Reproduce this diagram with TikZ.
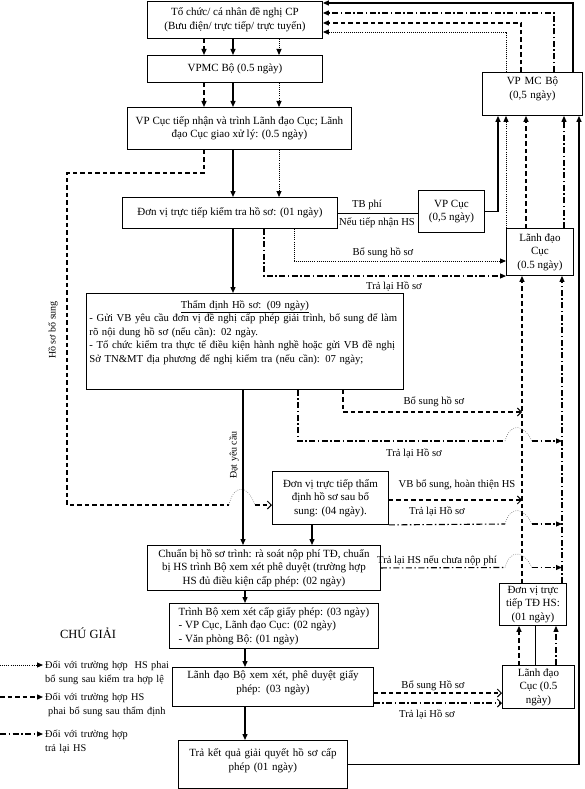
\documentclass[tikz,border=0pt]{standalone}
\usepackage{fontspec}
\setmainfont{Liberation Serif}
\usetikzlibrary{arrows.meta,positioning,calc}
\tikzset{
  txt/.style={font=\fontsize{11}{13.5}\selectfont},
  box/.style={txt, draw, line width=0.9pt, inner sep=2pt, align=center, anchor=north west},
  lbl/.style={font=\fontsize{10.6}{13}\selectfont, inner sep=0.5pt},
  sidelbl/.style={font=\fontsize{10}{12}\selectfont, inner sep=0.5pt, rotate=90},
  legtxt/.style={font=\fontsize{10.3}{13.5}\selectfont, text width=130pt, align=left, anchor=base west, inner sep=2pt},
  tip/.style={-{Triangle[length=6pt,width=5pt]}},
  opentip/.style={-{Straight Barb[length=4pt,width=8pt,line width=1pt]}},
  solidln/.style={line width=1.3pt},
  thinln/.style={line width=0.7pt},
  dashln/.style={line width=1.3pt, dash pattern=on 4.5pt off 3pt},
  dotln/.style={line width=0.9pt, dash pattern=on 0.9pt off 1.2pt},
  dashdotln/.style={line width=1.1pt, dash pattern=on 6pt off 2.5pt on 1.5pt off 2.5pt},
  hop/.style={line width=0.6pt, gray, dash pattern=on 0.8pt off 1.4pt}
}
\begin{document}
\begin{tikzpicture}[x=1pt,y=-1pt]
  \useasboundingbox (0,0) rectangle (585,789);
  \node[box, minimum width=175pt, minimum height=37pt] (org) at (147,1) {Tổ chức/ cá nhân đề nghị CP\\(Bưu điện/ trực tiếp/ trực tuyến)};
  \node[box, minimum width=175pt, minimum height=27pt] (vpmc) at (147,55) {VPMC Bộ (0.5 ngày)};
  \node[box, minimum width=224pt, minimum height=42pt] (vpcuc) at (127,107) {VP Cục tiếp nhận và trình Lãnh đạo Cục; Lãnh\\đạo Cục giao xử lý: (0.5 ngày)};
  \node[box, minimum width=215pt, minimum height=31pt] (kiemtra) at (122,197) {Đơn vị trực tiếp kiểm tra hồ sơ: (01 ngày)};
  \node[box, minimum width=66pt, minimum height=42pt] (vpcucb) at (418,190) {VP Cục\\(0,5 ngày)};
  \node[box, text width=96pt, text height=10.5pt, text depth=28.5pt] (vpmcbo) at (482,72) {VP MC Bộ\\(0,5 ngày)};
  \node[box, minimum width=67pt, minimum height=47pt] (ldcuca) at (506,228) {Lãnh đạo\\Cục\\(0.5 ngày)};
  \node[box, font=\fontsize{10.7}{13.5}\selectfont, inner xsep=3pt, inner ysep=3pt, text width=311pt, text height=12pt, text depth=78pt, align=left] (thamdinh) at (86,293) {\makebox[\linewidth]{\underline{Thẩm định Hồ sơ: (09 ngày)}}\\- Gửi VB yêu cầu đơn vị đề nghị cấp phép giải trình, bổ sung để làm\\rõ nội dung hồ sơ (nếu cần): 02 ngày.\\- Tổ chức kiểm tra thực tế điều kiện hành nghề hoặc gửi VB đề nghị\\Sở TN\&MT địa phương để nghị kiểm tra (nếu cần): 07 ngày;};
  \node[box, minimum width=116pt, minimum height=53pt] (sbs) at (272,471) {Đơn vị trực tiếp thẩm\\định hồ sơ sau bổ\\sung: (04 ngày).};
  \node[box, minimum width=233pt, minimum height=45pt] (chuanbi) at (147,545) {Chuẩn bị hồ sơ trình: rà soát nộp phí TĐ, chuẩn\\bị HS trình Bộ xem xét phê duyệt (trường hợp\\HS đủ điều kiện cấp phép: (02 ngày)};
  \node[box, minimum width=209pt, minimum height=45pt, align=left] (trinhbo) at (169,603) {Trình Bộ xem xét cấp giấy phép: (03 ngày)\\- VP Cục, Lãnh đạo Cục: (02 ngày)\\- Văn phòng Bộ: (01 ngày)};
  \node[box, text width=197pt, text height=9.5pt, text depth=25.5pt] (ldbo) at (172,667) {Lãnh đạo Bộ xem xét, phê duyệt giấy\\phép: (03 ngày)};
  \node[box, text width=165pt, text height=14.5pt, text depth=29.5pt] (traketqua) at (178,740) {Trả kết quả giải quyết hồ sơ cấp\\phép (01 ngày)};
  \node[box, minimum width=67pt, minimum height=42pt] (tdhs) at (499,583) {Đơn vị trực\\tiếp TĐ HS:\\(01 ngày)};
  \node[box, minimum width=72pt, minimum height=43pt] (ldcucb) at (502,665) {Lãnh đạo\\Cục (0.5\\ngày)};

  \coordinate (c1) at (204,0);
  \coordinate (c2) at (233,0);
  \coordinate (c3) at (279,0);
  \coordinate (c4) at (243,0);
  \coordinate (c5) at (245,0);
  \coordinate (c6) at (312,0);
  \coordinate (c7) at (579,0);
  \coordinate (c8) at (498,0);
  \coordinate (c9) at (526,0);
  \coordinate (c10) at (564,0);
  \coordinate (c11) at (522,0);
  \coordinate (c12) at (562,0);
  \coordinate (c13) at (519,0);
  \coordinate (c14) at (556,0);
  \coordinate (c15) at (535,0);

  \draw[dashln,tip] (c1 |- org.south) -- (c1 |- vpmc.north);
  \draw[solidln,tip] (c2 |- org.south) -- (c2 |- vpmc.north);
  \draw[dotln,tip] (c3 |- org.south) -- (c3 |- vpmc.north);
  \draw[dashln,tip] (c1 |- vpmc.south) -- (c1 |- vpcuc.north);
  \draw[solidln,tip] (c2 |- vpmc.south) -- (c2 |- vpcuc.north);
  \draw[dotln,tip] (c3 |- vpmc.south) -- (c3 |- vpcuc.north);
  \draw[solidln,tip] (c2 |- vpcuc.south) -- (c2 |- kiemtra.north);
  \draw[dotln,tip] (c3 |- vpcuc.south) -- (c3 |- kiemtra.north);

  \coordinate (hb1) at (67,173);
  \coordinate (hb2) at (67,505);
  \coordinate (hb3) at (229,505);
  \coordinate (hb4) at (255,505);
  \draw[dashln] (c1 |- vpcuc.south) |- (hb1) -- (hb2) -- (hb3);
  \draw[hop] (hb3) .. controls ($(hb3)+(4,-20)$) and ($(hb4)+(-8,-22)$) .. (hb4);
  \draw[dashln,opentip] (hb4) -- (hb4 -| sbs.west);
  \node[sidelbl] (hsbs) at (53,330) {Hồ sơ bổ sung};

  \draw[solidln,tip] (c2 |- kiemtra.south) -- (c2 |- thamdinh.north);
  \draw[solidln,tip] (c4 |- thamdinh.south) -- (c4 |- chuanbi.north);
  \node[sidelbl] (datyc) at (234,455) {Đạt yêu cầu};
  \draw[solidln,tip] (c6 |- sbs.south) -- (c6 |- chuanbi.north);
  \draw[solidln,tip] (c5 |- chuanbi.south) -- (c5 |- trinhbo.north);
  \draw[solidln,tip] (c5 |- trinhbo.south) -- (c5 |- ldbo.north);
  \draw[solidln,tip] (c5 |- ldbo.south) -- (c5 |- traketqua.north);
  \draw[solidln,tip] (traketqua.east) -| (c7 |- vpmcbo.south);

  \draw[thinln] (kiemtra.east) -- (kiemtra.east -| vpcucb.west);
  \node[lbl] (tbphi) at (367,205) {TB phí};
  \node[lbl] (neutn) at (377,223) {Nếu tiếp nhận HS};
  \draw[solidln,tip] (vpcucb.east) -| (c8 |- vpmcbo.south);

  \draw[dotln,tip] (ldcuca.north west) -- (ldcuca.north west |- vpmcbo.south);
  \draw[dashln,tip] (c9 |- ldcuca.north) -- (c9 |- vpmcbo.south);
  \draw[dashdotln,tip] (c10 |- ldcuca.north) -- (c10 |- vpmcbo.south);

  \coordinate (t1) at (573,3);
  \coordinate (t2) at (554,13);
  \coordinate (t3) at (521,23);
  \coordinate (t4) at (506,32);
  \draw[solidln,tip] (t1 |- vpmcbo.north) -- (t1) -- (t1 -| org.east);
  \draw[dashdotln,tip] (t2 |- vpmcbo.north) -- (t2) -- (t2 -| org.east);
  \draw[dashln,tip] (t3 |- vpmcbo.north) -- (t3) -- (t3 -| org.east);
  \draw[dotln,tip] (t4 |- vpmcbo.north) -- (t4) -- (t4 -| org.east);

  \coordinate (k1) at (294,261);
  \coordinate (k2) at (264,276);
  \draw[dotln,tip] (k1 |- kiemtra.south) -- (k1) -- (k1 -| ldcuca.west);
  \draw[dashdotln,tip] (k2 |- kiemtra.south) -- (k2) -- (k2 -| ldcuca.west);
  \node[lbl] (bsk) at (383,253) {Bổ sung hồ sơ};
  \node[lbl] (trk) at (394,287) {Trả lại Hồ sơ};

  \draw[dashln,tip] (c11 |- tdhs.north) -- (c11 |- ldcuca.south);
  \draw[dashdotln,tip] (c12 |- tdhs.north) -- (c12 |- ldcuca.south);
  \draw[dashln,tip] (c13 |- ldcucb.north) -- (c13 |- tdhs.south);
  \draw[dashdotln,tip] (c14 |- ldcucb.north) -- (c14 |- tdhs.south);
  \draw[thinln] (c15 |- ldcucb.north) -- (c15 |- tdhs.south);

  \coordinate (d1) at (343,412);
  \draw[dashln,opentip] (d1 |- thamdinh.south) -- (d1) -- (d1 -| c11);
  \node[lbl] (bstd) at (434,402) {Bổ sung hồ sơ};
  \coordinate (d2) at (298,441);
  \coordinate (ra1) at (505,441);
  \coordinate (rb1) at (532,441);
  \draw[dashdotln] (d2 |- thamdinh.south) -- (d2) -- (ra1);
  \draw[hop] (ra1) .. controls ($(ra1)+(5,-18)$) and ($(rb1)+(-9,-18)$) .. (rb1);
  \draw[dashdotln,tip] (rb1) -- (rb1 -| c12);
  \node[lbl] (trtd) at (414,454) {Trả lại Hồ sơ};

  \coordinate (s1) at ($(sbs.east)+(0,2)$);
  \draw[dashln,opentip] (s1) -- (s1 -| c11);
  \node[lbl] (vbbs) at (457,485) {VB bổ sung, hoàn thiện HS};
  \coordinate (ra2) at (505,524);
  \coordinate (rb2) at (532,524);
  \draw[dashdotln] (sbs.south east) -- (ra2);
  \draw[hop] (ra2) .. controls ($(ra2)+(5,-18)$) and ($(rb2)+(-9,-18)$) .. (rb2);
  \draw[dashdotln,tip] (rb2) -- (rb2 -| c12);
  \node[lbl] (trsbs) at (437,512) {Trả lại Hồ sơ};

  \coordinate (ra3) at (505,567.5);
  \coordinate (rb3) at (532,567.5);
  \draw[dashdotln] (chuanbi.east) -- (ra3);
  \draw[hop] (ra3) .. controls ($(ra3)+(5,-18)$) and ($(rb3)+(-9,-18)$) .. (rb3);
  \draw[dashdotln,tip] (rb3) -- (rb3 -| c12);
  \node[lbl] (trphi) at (437,561) {Trả lại HS nếu chưa nộp phí};

  \coordinate (b1) at (0,693);
  \coordinate (b2) at (0,703);
  \draw[dashln,opentip] (ldbo.east |- b1) -- (ldcucb.west |- b1);
  \draw[dashdotln,opentip] (ldbo.east |- b2) -- (ldcucb.west |- b2);
  \node[lbl] (bsbo) at (433,686) {Bổ sung Hồ sơ};
  \node[lbl] (trbo) at (427,715) {Trả lại Hồ sơ};

  \node[font=\fontsize{12.5}{15}\selectfont] (chugiai) at (88,633) {CHÚ GIẢI};
  \node[legtxt] (leg1) at (43,668.5) {Đối với trường hợp\ \ HS phai\\bổ sung sau kiểm tra hợp lệ};
  \node[legtxt] (leg2) at (43,700.5) {Đối với trường hợp HS\\\hspace*{3pt}phai bổ sung sau thẩm định};
  \node[legtxt] (leg3) at (43,737.5) {Đối với trường hợp\\trả lại HS};
  \coordinate (lg1) at (0,665);
  \coordinate (lg2) at (0,697);
  \coordinate (lg3) at (0,734);
  \draw[dotln,tip] (lg1) -- (lg1 -| leg1.west);
  \draw[dashln,tip] (lg2) -- (lg2 -| leg2.west);
  \draw[dashdotln,tip] (lg3) -- (lg3 -| leg3.west);
\end{tikzpicture}
\end{document}
